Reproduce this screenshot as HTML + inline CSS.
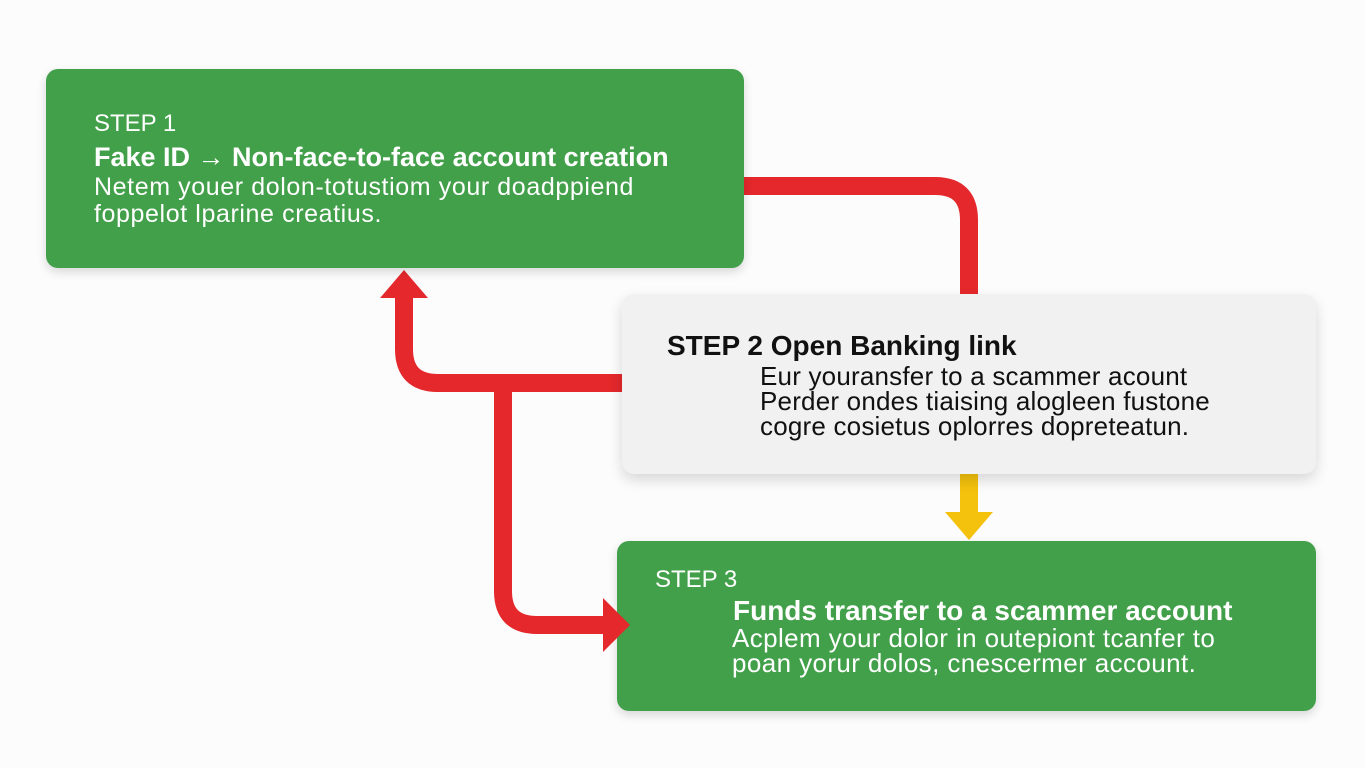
<!DOCTYPE html>
<html><head><style>
body{margin:0;width:1365px;height:768px;background:#fcfcfc;position:relative;overflow:hidden;font-family:"Liberation Sans","DejaVu Sans",sans-serif}
.b{position:absolute;border-radius:12px}
.g{background:#43a04a;color:#fff;box-shadow:0 4px 10px rgba(0,0,0,.15)}
.w{background:#f1f1f1;color:#111;box-shadow:0 6px 14px rgba(0,0,0,.15)}
.t{position:absolute;white-space:nowrap}
</style></head><body>
<svg width="1365" height="768" style="position:absolute;left:0;top:0">
<g fill="none" stroke="#e4282c" stroke-width="18">
<path d="M740 186 H935 Q969 186 969 220 V296"/>
<path d="M622 383 H438 Q404 383 404 349 V296"/>
<path d="M503 383 V591 Q503 625 537 625 H606"/>
</g>
<polygon points="380,298 428,298 404,270" fill="#e4282c"/>
<rect x="960" y="472" width="18" height="42" fill="#f4c20d"/>
<polygon points="945,512 993,512 969,540" fill="#f4c20d"/>
</svg>
<div class="b g" style="left:46px;top:69px;width:698px;height:199px"></div>
<div class="b w" style="left:622px;top:294px;width:694px;height:180px"></div>
<div class="b g" style="left:617px;top:541px;width:699px;height:170px"></div>
<svg width="1365" height="768" style="position:absolute;left:0;top:0">
<polygon points="603,598 603,652 630,625" fill="#e4282c"/>
</svg>
<div class="t" style="left:94px;top:110px;font-size:24px;color:#fff">STEP 1</div>
<div class="t" style="left:94px;top:142px;font-size:27px;font-weight:bold;color:#fff">Fake ID → Non-face-to-face account creation</div>
<div class="t" style="left:94px;top:174px;font-size:25px;letter-spacing:0.6px;color:#fff;line-height:27px">Netem youer dolon-totustiom your doadppiend<br>foppelot lparine creatius.</div>
<div class="t" style="left:667px;top:330px;font-size:28px;font-weight:bold;color:#111">STEP 2 Open Banking link</div>
<div class="t" style="left:760px;top:364px;font-size:26px;letter-spacing:0.2px;color:#111;line-height:25px">Eur youransfer to a scammer acount<br>Perder ondes tiaising alogleen fustone<br>cogre cosietus oplorres dopreteatun.</div>
<div class="t" style="left:655px;top:566px;font-size:24px;color:#fff">STEP 3</div>
<div class="t" style="left:733px;top:595px;font-size:28px;font-weight:bold;color:#fff">Funds transfer to a scammer account</div>
<div class="t" style="left:732px;top:626px;font-size:26px;letter-spacing:0.4px;color:#fff;line-height:25px">Acplem your dolor in outepiont tcanfer to<br>poan yorur dolos, cnescermer account.</div>
</body></html>
